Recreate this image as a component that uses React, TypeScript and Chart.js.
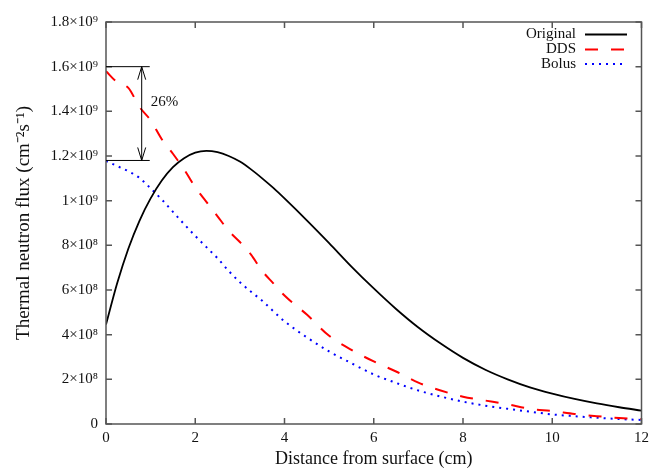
import { useEffect, useRef } from 'react';
import { Chart, registerables } from 'chart.js';

Chart.register(...registerables);

// Distance from surface (cm)
const DISTANCE_CM = [0, 0.25, 0.5, 0.75, 1, 1.25, 1.5, 1.75, 2, 2.25, 2.5, 2.75, 3, 3.25, 3.5, 3.75, 4, 4.5, 5, 5.5, 6, 6.5, 7, 7.5, 8, 8.5, 9, 9.5, 10, 10.5, 11, 11.5, 12];
// Thermal neutron flux in units of 1e8 cm^-2 s^-1
const ORIGINAL = [4.45, 6.3, 7.85, 9.1, 10.1, 10.9, 11.5, 11.9, 12.15, 12.23, 12.17, 12.0, 11.75, 11.4, 11.0, 10.57, 10.1, 9.12, 8.1, 7.05, 6.07, 5.15, 4.32, 3.6, 2.96, 2.43, 2.0, 1.64, 1.36, 1.12, 0.92, 0.75, 0.6];
const DDS = [15.8, 15.3, 15.05, 14.2, 13.6, 12.75, 12.1, 11.4, 10.6, 9.95, 9.3, 8.65, 8.15, 7.58, 6.85, 6.3, 5.75, 4.9, 3.95, 3.32, 2.8, 2.35, 1.85, 1.5, 1.22, 1.05, 0.88, 0.68, 0.58, 0.45, 0.35, 0.27, 0.22];
const BOLUS = [11.78, 11.55, 11.32, 11.02, 10.55, 10.05, 9.5, 8.95, 8.42, 7.92, 7.42, 6.85, 6.35, 5.92, 5.52, 5.05, 4.6, 3.88, 3.25, 2.72, 2.22, 1.84, 1.5, 1.23, 1.0, 0.82, 0.68, 0.55, 0.43, 0.35, 0.28, 0.22, 0.18];
const FLUX_UNIT = 1e8;

const SERIES_NAMES = ['Original', 'DDS', 'Bolus'];
const X_TICKS = [0, 2, 4, 6, 8, 10, 12];
const Y_TICKS = [0, 2e8, 4e8, 6e8, 8e8, 1e9, 1.2e9, 1.4e9, 1.6e9, 1.8e9];

// Annotation (26% difference at the surface)
const ANNOT_TOP = 1.6e9;
const ANNOT_BOTTOM = 1.18e9;
const ANNOT_LINE_END_X = 0.98;
const ANNOT_ARROW_X = 0.8;
const ANNOT_LABEL = '26%';

const SERIF = '"Liberation Serif", "Times New Roman", serif';

const SUP: Record<string, string> = { '0': '⁰', '1': '¹', '2': '²', '3': '³', '4': '⁴', '5': '⁵', '6': '⁶', '7': '⁷', '8': '⁸', '9': '⁹', '-': '⁻' };
const sup = (s: string) => s.split('').map((c) => SUP[c] ?? c).join('');
function fmtSci(v: number) {
  if (v === 0) return '0';
  const e = Math.floor(Math.log10(v) + 1e-9);
  const m = Math.round((v / Math.pow(10, e)) * 10) / 10;
  return `${m}×10${sup(String(e))}`;
}

const toPoints = (arr: number[]) => DISTANCE_CM.map((x, i) => ({ x, y: arr[i] * FLUX_UNIT }));

const framePlugin = {
  id: 'frame',
  afterDatasetsDraw(chart: any) {
    const { ctx, chartArea: a, scales } = chart;
    const xs = scales.x;
    const ys = scales.y;
    ctx.save();
    // border
    ctx.strokeStyle = '#555';
    ctx.lineWidth = 1.5;
    ctx.strokeRect(a.left, a.top, a.right - a.left, a.bottom - a.top);
    // inward ticks, mirrored
    const tl = 6;
    ctx.beginPath();
    X_TICKS.forEach((v) => {
      const p = xs.getPixelForValue(v);
      ctx.moveTo(p, a.bottom);
      ctx.lineTo(p, a.bottom - tl);
      ctx.moveTo(p, a.top);
      ctx.lineTo(p, a.top + tl);
    });
    Y_TICKS.forEach((v) => {
      const p = ys.getPixelForValue(v);
      ctx.moveTo(a.left, p);
      ctx.lineTo(a.left + tl, p);
      ctx.moveTo(a.right, p);
      ctx.lineTo(a.right - tl, p);
    });
    ctx.stroke();

    // annotation
    ctx.strokeStyle = '#000';
    ctx.lineWidth = 1;
    const yT = ys.getPixelForValue(ANNOT_TOP);
    const yB = ys.getPixelForValue(ANNOT_BOTTOM);
    const x0 = xs.getPixelForValue(0);
    const x1 = xs.getPixelForValue(ANNOT_LINE_END_X);
    const xa = xs.getPixelForValue(ANNOT_ARROW_X);
    ctx.beginPath();
    ctx.moveTo(x0, yT);
    ctx.lineTo(x1, yT);
    ctx.moveTo(x0, yB);
    ctx.lineTo(x1, yB);
    ctx.moveTo(xa, yT);
    ctx.lineTo(xa, yB);
    // arrow heads
    const hl = 13, hw = 4;
    ctx.moveTo(xa - hw, yT + hl);
    ctx.lineTo(xa, yT);
    ctx.lineTo(xa + hw, yT + hl);
    ctx.moveTo(xa - hw, yB - hl);
    ctx.lineTo(xa, yB);
    ctx.lineTo(xa + hw, yB - hl);
    ctx.stroke();
    ctx.fillStyle = '#111';
    ctx.font = `15px ${SERIF}`;
    ctx.textAlign = 'left';
    ctx.textBaseline = 'middle';
    ctx.fillText(ANNOT_LABEL, xa + 9, (yT + yB) / 2 - 12);

    // legend
    const rows = [34.5, 49.5, 64];
    const textRight = 576;
    const lineL = 585, lineR = 627;
    chart.data.datasets.forEach((ds: any, i: number) => {
      const y = rows[i];
      ctx.fillStyle = '#111';
      ctx.font = `15px ${SERIF}`;
      ctx.textAlign = 'right';
      ctx.textBaseline = 'middle';
      ctx.fillText(SERIES_NAMES[i], textRight, y);
      ctx.strokeStyle = ds.borderColor;
      ctx.lineWidth = ds.borderWidth;
      ctx.setLineDash(ds.borderDash || []);
      ctx.beginPath();
      ctx.moveTo(lineL, y);
      ctx.lineTo(lineR, y);
      ctx.stroke();
      ctx.setLineDash([]);
    });
    ctx.restore();
  },
};

export default function App() {
  const ref = useRef<HTMLCanvasElement>(null);
  useEffect(() => {
    document.body.style.margin = '0';
    const chart = new Chart(ref.current!, {
      type: 'line',
      data: {
        datasets: [
          { label: SERIES_NAMES[0], data: toPoints(ORIGINAL), borderColor: '#000000', borderWidth: 1.8, pointRadius: 0, cubicInterpolationMode: 'monotone' },
          { label: SERIES_NAMES[1], data: toPoints(DDS), borderColor: '#ff0000', borderWidth: 2, borderDash: [13, 13], pointRadius: 0, cubicInterpolationMode: 'monotone' },
          { label: SERIES_NAMES[2], data: toPoints(BOLUS), borderColor: '#0000ff', borderWidth: 2, borderDash: [2, 5], pointRadius: 0, cubicInterpolationMode: 'monotone' },
        ],
      } as any,
      options: {
        animation: false,
        responsive: false,
        layout: { padding: { top: 22, right: 11, left: 0, bottom: 0 } },
        plugins: { legend: { display: false }, tooltip: { enabled: false } },
        scales: {
          x: {
            type: 'linear',
            min: 0,
            max: 12,
            grid: { display: false, drawTicks: false },
            border: { display: false },
            afterFit: (s: any) => { s.height = 46; },
            afterBuildTicks: (s: any) => { s.ticks = X_TICKS.map((v) => ({ value: v })); },
            ticks: { color: '#111', padding: 5, font: { family: SERIF, size: 15 }, maxRotation: 0 },
            title: { display: true, text: 'Distance from surface (cm)', color: '#111', padding: 0, font: { family: SERIF, size: 18 } },
          },
          y: {
            type: 'linear',
            min: 0,
            max: 1.8e9,
            grid: { display: false, drawTicks: false },
            border: { display: false },
            afterFit: (s: any) => { s.width = 106; },
            afterBuildTicks: (s: any) => { s.ticks = Y_TICKS.map((v) => ({ value: v })); },
            ticks: { color: '#111', padding: 8, font: { family: SERIF, size: 15 }, callback: (v: any) => fmtSci(Number(v)) },
            title: { display: true, text: 'Thermal neutron flux (cm⁻²s⁻¹)', color: '#111', padding: { top: 13, bottom: 0 }, font: { family: SERIF, size: 19 } },
          },
        },
      },
      plugins: [framePlugin],
    } as any);
    return () => chart.destroy();
  }, []);
  return (
    <div style={{ width: 654, height: 470 }}>
      <canvas ref={ref} width={654} height={470} style={{ display: 'block' }} />
    </div>
  );
}
